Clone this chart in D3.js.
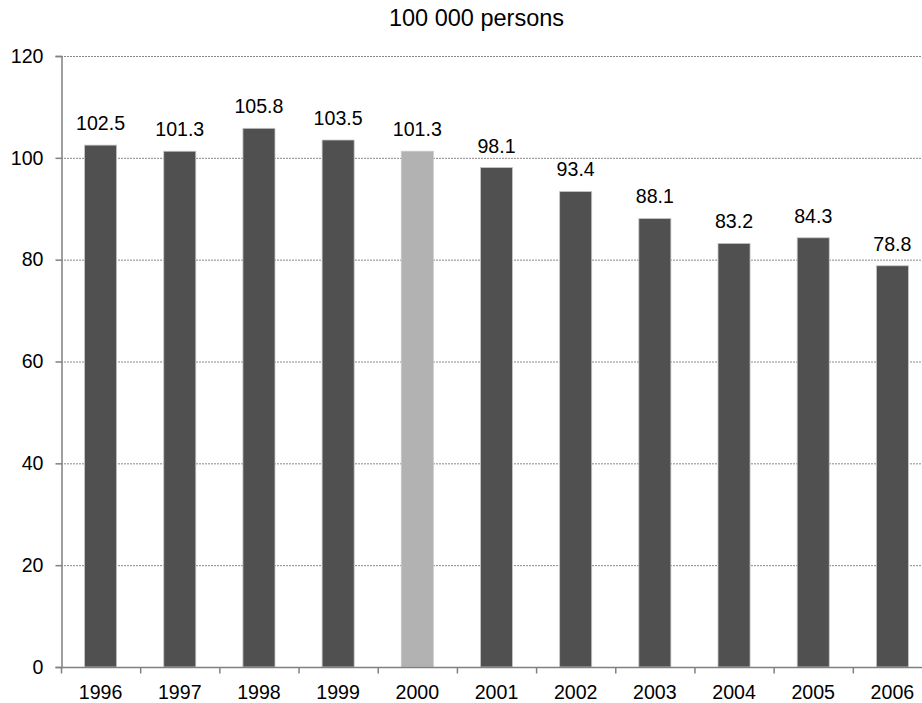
<!DOCTYPE html>
<html>
<head>
<meta charset="utf-8">
<script src="https://cdn.jsdelivr.net/npm/d3@7"></script>
<style>
  html, body { margin: 0; padding: 0; background: #fff; }
  svg { display: block; font-family: "Liberation Sans", Arial, sans-serif; }
</style>
</head>
<body>
<svg id="chart" width="922" height="703"></svg>
<script>
const years = ["1996", "1997", "1998", "1999", "2000", "2001", "2002", "2003", "2004", "2005", "2006"];
const values = [102.5, 101.3, 105.8, 103.5, 101.3, 98.1, 93.4, 88.1, 83.2, 84.3, 78.8];
const highlightYear = "2000";
const yTicks = [0, 20, 40, 60, 80, 100, 120];
const title = "100 000 persons";

const svg = d3.select("#chart");
const plotLeft = 61, plotRight = 932, plotTop = 56, plotBottom = 667;
const labelSize = "19.6px";

const x = d3.scaleBand().domain(years).range([plotLeft, plotRight]).paddingInner(0).paddingOuter(0);
const y = d3.scaleLinear().domain([0, 120]).range([plotBottom, plotTop]);

// dotted horizontal gridlines
svg.append("g")
  .selectAll("line")
  .data(yTicks.filter(d => d > 0))
  .join("line")
  .attr("x1", plotLeft).attr("x2", plotRight)
  .attr("y1", d => y(d) + 0.5).attr("y2", d => y(d) + 0.5)
  .attr("stroke", "#888")
  .attr("stroke-width", 1)
  .attr("stroke-dasharray", "2,1");

// bars
const barW = x.bandwidth() * 0.405;
svg.append("g")
  .selectAll("rect")
  .data(years.map((yr, i) => ({ yr, v: values[i] })))
  .join("rect")
  .attr("x", d => x(d.yr) + (x.bandwidth() - barW) / 2)
  .attr("width", barW)
  .attr("y", d => y(d.v))
  .attr("height", d => y(0) - y(d.v))
  .attr("fill", d => d.yr === highlightYear ? "#b2b2b2" : "#505050")
  .attr("stroke", "#c8c8c8")
  .attr("stroke-width", 0.8);

// value labels
svg.append("g")
  .selectAll("text")
  .data(years.map((yr, i) => ({ yr, v: values[i] })))
  .join("text")
  .attr("x", d => x(d.yr) + x.bandwidth() / 2)
  .attr("y", d => y(d.v) - 15)
  .attr("text-anchor", "middle")
  .attr("font-size", labelSize)
  .attr("fill", "#000")
  .text(d => d.v.toFixed(1));

// y axis
const yAxis = svg.append("g")
  .attr("transform", `translate(${plotLeft + 0.5},0)`)
  .call(d3.axisLeft(y).tickValues(yTicks).tickSize(6).tickPadding(12));
yAxis.select(".domain").attr("stroke", "#808080").attr("stroke-width", 1.5);
yAxis.selectAll(".tick line").attr("stroke", "#808080").attr("stroke-width", 1.5);
yAxis.selectAll(".tick text")
  .attr("font-size", labelSize).attr("fill", "#000")
  .attr("font-family", "'Liberation Sans', Arial, sans-serif");

// x axis with ticks between categories
const xAxis = svg.append("g").attr("transform", `translate(0,${plotBottom + 0.5})`);
xAxis.append("line")
  .attr("x1", plotLeft).attr("x2", plotRight)
  .attr("stroke", "#808080").attr("stroke-width", 1.5);
xAxis.selectAll("line.sep")
  .data(years)
  .join("line")
  .attr("class", "sep")
  .attr("x1", d => x(d) + 0.5).attr("x2", d => x(d) + 0.5)
  .attr("y1", 0).attr("y2", 6)
  .attr("stroke", "#808080").attr("stroke-width", 1.5);
xAxis.selectAll("text")
  .data(years)
  .join("text")
  .attr("x", d => x(d) + x.bandwidth() / 2)
  .attr("y", 31)
  .attr("text-anchor", "middle")
  .attr("font-size", labelSize)
  .attr("fill", "#000")
  .text(d => d);

// title
svg.append("text")
  .attr("x", 476.5)
  .attr("y", 26)
  .attr("text-anchor", "middle")
  .attr("font-size", "23.5px")
  .attr("fill", "#000")
  .text(title);
</script>
</body>
</html>
